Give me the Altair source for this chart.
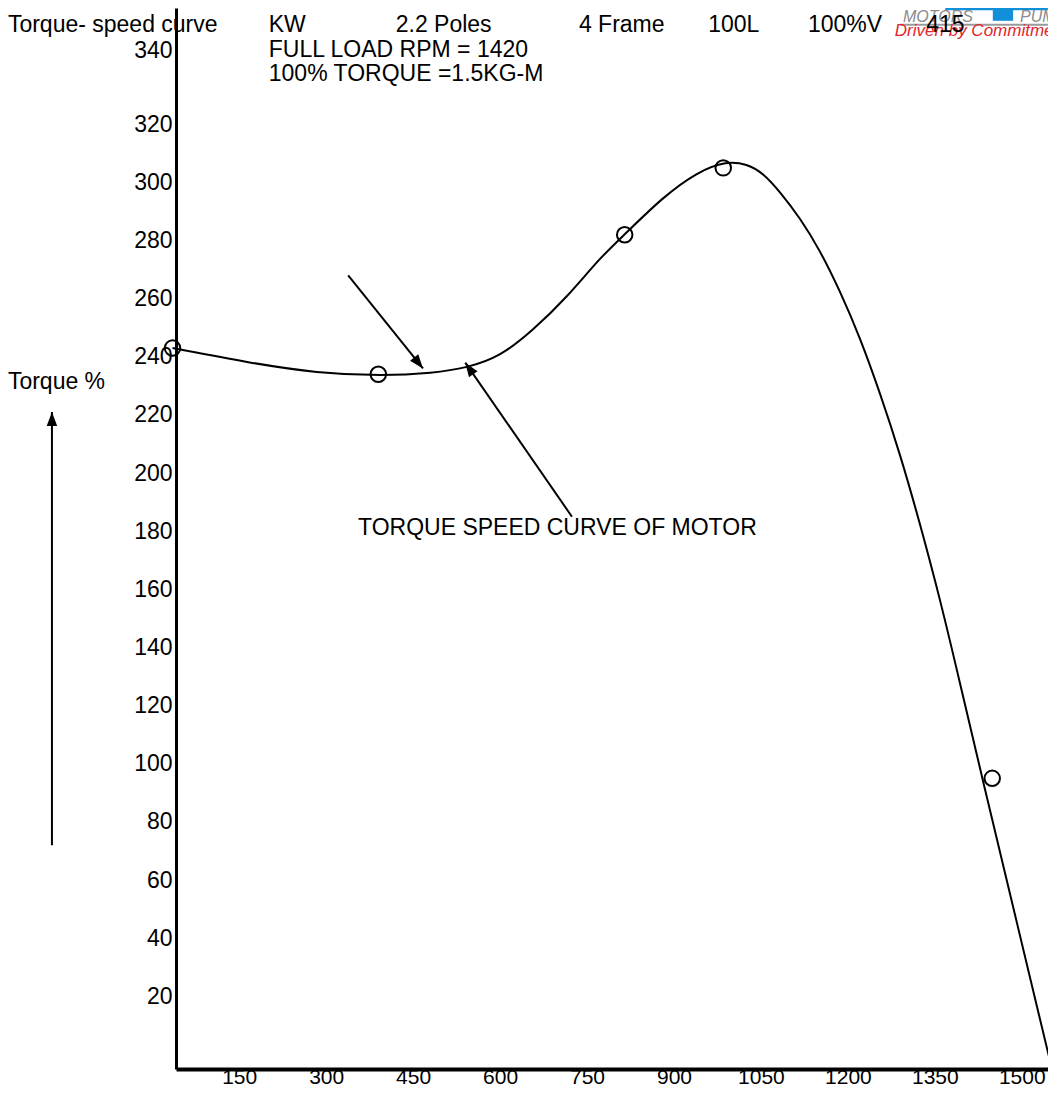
import math
import altair as alt
import pandas as pd

# ---- data ----
speed_pts = [35, 390, 815, 985, 1449]
torque_pts = [243, 234, 282, 305, 95]

speed_curve = [35, 169, 284, 398, 484, 543, 600, 657, 716, 772, 814, 881, 940, 991, 1026, 1054,
               1083, 1117, 1152, 1186, 1221, 1255, 1290, 1324, 1359, 1393, 1416, 1552]
torque_curve = [243, 237.9, 234.4, 233.4, 234.4, 236.2, 240, 249.2, 260.6, 274, 281.9, 295, 303.6,
                307.4, 306.3, 303.2, 296.7, 287.9, 276.6, 262.8, 246.6, 227.8, 206.6, 182.9, 156.7,
                128.1, 108.2, -5]

x_ticks = [150, 300, 450, 600, 750, 900, 1050, 1200, 1350, 1500]
y_ticks = [20, 40, 60, 80, 100, 120, 140, 160, 180, 200, 220, 240, 260, 280, 300, 320, 340]

# annotation arrows (start -> tip), data units
arrow_id = ["a1", "a2", "a3"]
arrow_x0 = [338, 724, -173]
arrow_y0 = [268, 185, 72]
arrow_x1 = [467, 540, -173]
arrow_y1 = [236, 238, 221]

# texts, data units
text_labels = ["Torque- speed curve", "KW", "2.2 Poles", "4 Frame", "100L", "100%V",
               "FULL LOAD RPM = 1420", "100% TORQUE =1.5KG-M",
               "TORQUE SPEED CURVE OF MOTOR", "Torque %"]
text_x = [-249, 201, 420, 736, 959, 1131, 201, 201, 355, -249]
text_y = [354.2, 354.2, 354.2, 354.2, 354.2, 354.2, 345.6, 337.3, 181.0, 231.2]
volt_label = "415"
volt_x = 1335
volt_y = 354.2

# logo pieces, data units
logo_rect_x = [1368, 1450]
logo_rect_x2 = [1545, 1485]
logo_rect_y = [360, 360]
logo_rect_y2 = [359.2, 355.6]
logo_words = ["MOTORS", "PUMPS"]
logo_words_x = [1295, 1497]
logo_words_y = [356.9, 356.9]
logo_line_x = [1290, 1545]
logo_line_y = [354.2, 354.2]
slogan = "Driven by Commitment"
slogan_x = 1281
slogan_y = 352.1

PX_PER_RPM = 880 / 1518
W, H = 872, 1061
X_DOM = [41, 41 + W / PX_PER_RPM]
Y_DOM = [-5, 360]
FONT = "Liberation Sans"

px_x = W / (X_DOM[1] - X_DOM[0])
px_y = H / (Y_DOM[1] - Y_DOM[0])

xs = alt.Scale(domain=X_DOM, nice=False, zero=False)
ys = alt.Scale(domain=Y_DOM, nice=False, zero=False)
xa = alt.Axis(values=x_ticks, ticks=False, grid=False, title=None, domainColor="black", domainWidth=4,
              format="d", labelFont=FONT, labelFontSize=21, labelColor="black", labelPadding=14,
              labelFlush=False, labelBaseline="alphabetic")
ya = alt.Axis(values=y_ticks, ticks=False, grid=False, title=None, domainColor="black", domainWidth=3,
              labelFont=FONT, labelFontSize=23, labelColor="black", labelPadding=4, labelFlush=False,
              labelOffset={"condition": {"test": "datum.value == 340", "value": -16}, "value": 0})


def X(f):
    return alt.X(f, scale=xs, axis=xa)


def Y(f):
    return alt.Y(f, scale=ys, axis=ya)


curve_df = pd.DataFrame({"speed": speed_curve, "torque": torque_curve})
pts_df = pd.DataFrame({"speed": speed_pts, "torque": torque_pts})

angles = []
for x0, y0, x1, y1 in zip(arrow_x0, arrow_y0, arrow_x1, arrow_y1):
    dx = (x1 - x0) * px_x
    dy = -(y1 - y0) * px_y
    angles.append(math.degrees(math.atan2(dx, -dy)) % 360)
arr_df = pd.DataFrame({"id": arrow_id, "x0": arrow_x0, "y0": arrow_y0,
                       "x1": arrow_x1, "y1": arrow_y1, "ang": angles})
txt_df = pd.DataFrame({"t": text_labels, "x": text_x, "y": text_y})
volt_df = pd.DataFrame({"t": [volt_label], "x": [volt_x], "y": [volt_y]})
rect_df = pd.DataFrame({"x": logo_rect_x, "x2": logo_rect_x2, "y": logo_rect_y, "y2": logo_rect_y2})
words_df = pd.DataFrame({"t": logo_words, "x": logo_words_x, "y": logo_words_y})
line_df = pd.DataFrame({"x": logo_line_x, "y": logo_line_y})
slogan_df = pd.DataFrame({"t": [slogan], "x": [slogan_x], "y": [slogan_y]})

curve = alt.Chart(curve_df).mark_line(color="black", strokeWidth=2, interpolate="basis").encode(
    x=X("speed:Q"), y=Y("torque:Q"))

points = alt.Chart(pts_df).mark_point(shape="circle", size=240, color="black", strokeWidth=2,
                                      filled=False, opacity=1).encode(x=X("speed:Q"), y=Y("torque:Q"))

arrow_lines = alt.Chart(arr_df).mark_rule(color="black", strokeWidth=2).encode(
    x=X("x0:Q"), y=Y("y0:Q"), x2="x1:Q", y2="y1:Q")

arrow_heads = alt.Chart(arr_df).mark_point(shape="M0,0L0.75,2L-0.75,2Z", size=196, filled=True,
                                           color="black", opacity=1, strokeWidth=0).encode(
    x=X("x1:Q"), y=Y("y1:Q"), angle=alt.Angle("ang:Q", scale=None))

texts = alt.Chart(txt_df).mark_text(align="left", baseline="middle", font=FONT, fontSize=23,
                                    color="black").encode(x=X("x:Q"), y=Y("y:Q"), text="t:N")

volt = alt.Chart(volt_df).mark_text(align="left", baseline="middle", font=FONT, fontSize=23,
                                    color="black").encode(x=X("x:Q"), y=Y("y:Q"), text="t:N")

logo_rects = alt.Chart(rect_df).mark_rect(color="#118fd8").encode(
    x=X("x:Q"), x2="x2:Q", y=Y("y:Q"), y2="y2:Q")

logo_words_l = alt.Chart(words_df).mark_text(align="left", baseline="middle", font=FONT, fontSize=16,
                                             fontStyle="italic", color="#8c8c8c").encode(
    x=X("x:Q"), y=Y("y:Q"), text="t:N")

logo_line = alt.Chart(line_df).mark_line(color="#9a9a9a", strokeWidth=2).encode(x=X("x:Q"), y=Y("y:Q"))

slogan_l = alt.Chart(slogan_df).mark_text(align="left", baseline="middle", font=FONT, fontSize=17,
                                          fontStyle="italic", color="#e3262b").encode(
    x=X("x:Q"), y=Y("y:Q"), text="t:N")

chart = alt.layer(logo_rects, logo_words_l, logo_line, slogan_l, volt, curve, points, arrow_lines,
                  arrow_heads, texts).properties(
    width=W, height=H,
    autosize=alt.AutoSizeParams(type="none"),
    padding={"left": 168, "top": 0, "right": 0, "bottom": 17},
).configure_view(stroke=None)

chart.save("out.html", embed_options={"renderer": "svg", "actions": False})
